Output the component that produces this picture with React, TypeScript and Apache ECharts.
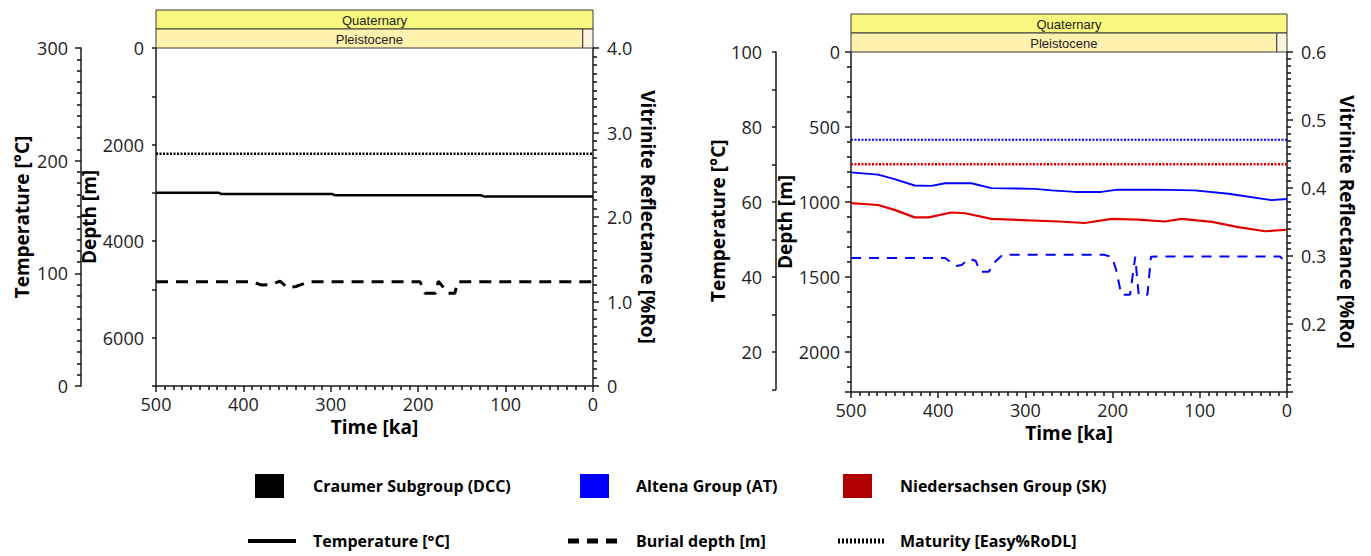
import { useEffect, useRef } from 'react';
import * as echarts from 'echarts';

// ---------- Data ----------
// Chronostratigraphy (ages in ka)
const stratNames = ['Quaternary', 'Pleistocene', 'Holocene'];
const stratStart = [2580, 2580, 11.7];
const stratEnd = [0, 11.7, 0];
const stratRow = [1, 0, 0];

// Left panel: Craumer Subgroup (DCC)  [time ka, value]
const dccTemperature: [number, number][] = [
  [500, 171.5], [428, 171.5], [425, 170.4], [298, 170.4], [295, 169.2], [128, 169.2], [125, 168.3], [0, 168.3],
];
const dccBurialDepth: [number, number][] = [
  [500, 4840], [390, 4840], [379, 4910], [370, 4900], [358, 4830], [350, 4960], [340, 4940], [334, 4900],
  [325, 4840], [198, 4840], [192, 5080], [180, 5080], [177, 4830], [171, 4960], [166, 5080], [158, 5080],
  [155, 4840], [0, 4840],
];
const dccMaturity: [number, number][] = [[500, 2.75], [0, 2.75]];

// Right panel: Altena Group (AT) and Niedersachsen Group (SK)
const atTemperature: [number, number][] = [
  [500, 67.9], [469, 67.3], [450, 66.1], [427, 64.4], [408, 64.3], [392, 65.0], [362, 65.0], [339, 63.7],
  [289, 63.5], [270, 63.1], [243, 62.7], [213, 62.7], [194, 63.3], [151, 63.3], [106, 63.1], [67, 62.2],
  [18, 60.5], [0, 60.8],
];
const skTemperature: [number, number][] = [
  [500, 59.7], [469, 59.2], [450, 57.9], [427, 55.9], [411, 55.9], [385, 57.2], [369, 57.0], [339, 55.5],
  [262, 54.8], [232, 54.4], [201, 55.5], [171, 55.3], [140, 54.8], [121, 55.5], [86, 54.7], [56, 53.3],
  [25, 52.2], [0, 52.6],
];
const atBurialDepth: [number, number][] = [
  [500, 1373], [392, 1373], [380, 1428], [373, 1420], [365, 1378], [357, 1392], [352, 1465], [342, 1465],
  [335, 1400], [326, 1352], [210, 1352], [201, 1365], [196, 1450], [190, 1618], [180, 1618], [176, 1450],
  [174, 1365], [172, 1500], [170, 1618], [160, 1618], [156, 1365], [145, 1363], [8, 1363], [3, 1395], [0, 1400],
];
const atMaturity: [number, number][] = [[500, 0.471], [0, 0.471]];
const skMaturity: [number, number][] = [[500, 0.435], [0, 0.435]];

// Legend
const unitNames = ['Craumer Subgroup (DCC)', 'Altena Group (AT)', 'Niedersachsen Group (SK)'];
const variableNames = ['Temperature [°C]', 'Burial depth [m]', 'Maturity [Easy%RoDL]'];

// ---------- Styles ----------
const FONT = '"Open Sans", "Noto Sans", sans-serif';
const AX = '#1a1a1a';
const stratFill: Record<string, string> = { Quaternary: '#F9F97F', Pleistocene: '#FFF2AE', Holocene: '#FEF2E0' };
const unitColors = ['#000000', '#0000FF', '#B00000'];
const BLUE = '#0000FF';
const RED = '#E00000';

const tickLabel = { fontSize: 18, color: '#222', fontFamily: FONT };
const titleStyle = { fontSize: 19, fontWeight: 'bold' as const, color: '#000', fontFamily: FONT };
const minor = (splitNumber: number) => ({ show: true, splitNumber, length: 4, lineStyle: { color: AX, width: 1.6 } });

function App() {
  const ref = useRef<HTMLDivElement>(null);
  useEffect(() => {
    if (!ref.current) return;
    const chart = echarts.init(ref.current, undefined, { renderer: 'svg' });

    const axisCommon = (extra: any) => ({
      type: 'value',
      axisLine: { show: true, onZero: false, lineStyle: { color: AX, width: 1.5 } },
      axisTick: { show: true, inside: false, length: 6, lineStyle: { color: AX, width: 1.5 } },
      splitLine: { show: false },
      axisLabel: { ...tickLabel, showMinLabel: true, showMaxLabel: true },
      ...extra,
    });

    const timeAxis = (gridIndex: number, show = true) =>
      axisCommon({
        gridIndex, min: 0, max: 500, inverse: true, interval: 100, show,
        minorTick: minor(10),
        axisLabel: { ...tickLabel, margin: 9, showMinLabel: true, showMaxLabel: true },
        name: 'Time [ka]', nameLocation: 'middle', nameGap: 31, nameTextStyle: titleStyle,
      });

    const hiddenAxis = (gridIndex: number, min: number, max: number, inverse = false) => ({
      type: 'value', gridIndex, min, max, inverse, show: false,
    });

    const stratSeries = (xi: number, yi: number) => ({
      type: 'custom', xAxisIndex: xi, yAxisIndex: yi, silent: true,
      data: stratNames.map((_, i) => [stratStart[i], stratEnd[i], stratRow[i]]),
      renderItem: (params: any, api: any) => {
        const i = params.dataIndex;
        const s = Math.min(api.value(0), 500);
        const e = Math.max(api.value(1), 0);
        const r = api.value(2);
        const a = api.coord([s, r + 1]);
        const b = api.coord([e, r]);
        const x = Math.min(a[0], b[0]);
        const y = Math.min(a[1], b[1]);
        const w = Math.abs(b[0] - a[0]);
        const h = Math.abs(b[1] - a[1]);
        const children: any[] = [
          { type: 'rect', shape: { x, y, width: w, height: h }, style: { fill: stratFill[stratNames[i]], stroke: '#3a3a3a', lineWidth: 1 } },
        ];
        if (w > 80) {
          children.push({
            type: 'text',
            style: { text: stratNames[i], x: x + w / 2, y: y + h / 2 + 1, align: 'center', verticalAlign: 'middle', fontSize: 13, fontFamily: '"Liberation Sans", Arial, sans-serif', fill: '#222' },
          });
        }
        return { type: 'group', children };
      },
    });

    const line = (data: [number, number][], xi: number, yi: number, color: string, width: number, type: any) => ({
      type: 'line', xAxisIndex: xi, yAxisIndex: yi, data, symbol: 'none', showSymbol: false, silent: true, z: 3,
      lineStyle: { color, width, type }, emphasis: { disabled: true },
    });

    // legend graphics
    const legendRow1Y = 486;
    const legendRow2Y = 541;
    const sq = [255, 580, 843];
    const tx = [313, 636, 900];
    const legendText = { fontSize: 16, fontWeight: 'bold', fontFamily: FONT, fill: '#000', verticalAlign: 'middle' };
    const graphic: any[] = [];
    unitNames.forEach((n, i) => {
      graphic.push({ type: 'rect', shape: { x: sq[i], y: legendRow1Y - 12, width: 29, height: 24 }, style: { fill: unitColors[i] } });
      graphic.push({ type: 'text', style: { ...legendText, text: n, x: tx[i], y: legendRow1Y } });
    });
    const lineSamples = [
      { x1: 248, x2: 296, dash: null, w: 4 },
      { x1: 568, x2: 620, dash: [11, 8], w: 5 },
      { x1: 838, x2: 886, dash: [2, 2], w: 5 },
    ];
    variableNames.forEach((n, i) => {
      const l = lineSamples[i];
      graphic.push({ type: 'line', shape: { x1: l.x1, y1: legendRow2Y, x2: l.x2, y2: legendRow2Y }, style: { stroke: '#000', lineWidth: l.w, lineDash: l.dash } });
      graphic.push({ type: 'text', style: { ...legendText, text: n, x: tx[i], y: legendRow2Y } });
    });

    chart.setOption({
      animation: false,
      textStyle: { fontFamily: FONT },
      grid: [
        { left: 156, top: 48, width: 437, height: 338 },   // 0 left main
        { left: 851, top: 52, width: 436, height: 340 },   // 1 right main
        { left: 156, top: 10, width: 437, height: 38 },    // 2 left strat
        { left: 851, top: 14, width: 436, height: 38 },    // 3 right strat
        { left: 851, top: 52, width: 436, height: 337.5 }, // 4 right temperature
      ],
      xAxis: [
        timeAxis(0),
        timeAxis(1),
        hiddenAxis(2, 0, 500, true),
        hiddenAxis(3, 0, 500, true),
        hiddenAxis(4, 0, 500, true),
      ],
      yAxis: [
        // 0 left depth
        axisCommon({
          gridIndex: 0, position: 'left', min: 0, max: 7000, inverse: true, interval: 1000,
          axisTick: { show: true, inside: false, length: 4, lineStyle: { color: AX, width: 1.5 } },
          axisLabel: { ...tickLabel, margin: 12, showMinLabel: true, showMaxLabel: true, formatter: (v: number) => (v % 2000 === 0 ? String(v) : '') },
          name: 'Depth [m]', nameLocation: 'middle', nameGap: 53, nameRotate: 90, nameTextStyle: titleStyle,
        }),
        // 1 left temperature
        axisCommon({
          gridIndex: 0, position: 'left', offset: 75, min: 0, max: 300, interval: 100,
          minorTick: minor(10),
          axisLabel: { ...tickLabel, margin: 13, showMinLabel: true, showMaxLabel: true },
          name: 'Temperature [°C]', nameLocation: 'middle', nameGap: 50, nameRotate: 90, nameTextStyle: titleStyle,
        }),
        // 2 left vitrinite
        axisCommon({
          gridIndex: 0, position: 'right', min: 0, max: 4, interval: 1,
          minorTick: minor(10),
          axisLabel: { ...tickLabel, margin: 14, showMinLabel: true, showMaxLabel: true, formatter: (v: number) => (v === 0 ? '0' : v.toFixed(1)) },
          name: 'Vitrinite Reflectance [%Ro]', nameLocation: 'middle', nameGap: 45, nameRotate: -90, nameTextStyle: titleStyle,
        }),
        // 3 right depth
        axisCommon({
          gridIndex: 1, position: 'left', min: 0, max: 2266.67, inverse: true, interval: 500,
          minorTick: minor(5),
          axisLabel: { ...tickLabel, margin: 11, showMinLabel: true, showMaxLabel: true, formatter: (v: number) => (v % 500 === 0 && v <= 2000 ? String(v) : '') },
          name: 'Depth [m]', nameLocation: 'middle', nameGap: 53, nameRotate: 90, nameTextStyle: titleStyle,
        }),
        // 4 right vitrinite
        axisCommon({
          gridIndex: 1, position: 'right', min: 0.1, max: 0.6, interval: 0.1,
          minorTick: minor(10),
          axisLabel: { ...tickLabel, margin: 14, showMinLabel: true, showMaxLabel: true, formatter: (v: number) => (v > 0.15 ? v.toFixed(1) : '') },
          name: 'Vitrinite Reflectance [%Ro]', nameLocation: 'middle', nameGap: 50, nameRotate: -90, nameTextStyle: titleStyle,
        }),
        // 5 left strat
        hiddenAxis(2, 0, 2),
        // 6 right strat
        hiddenAxis(3, 0, 2),
        // 7 right temperature
        axisCommon({
          gridIndex: 4, position: 'left', offset: 75, min: 10, max: 100, interval: 10,
          axisTick: { show: true, inside: false, length: 4, lineStyle: { color: AX, width: 1.5 } },
          axisLabel: { ...tickLabel, margin: 14, showMinLabel: true, showMaxLabel: true, formatter: (v: number) => (v % 20 === 0 ? String(v) : '') },
          name: 'Temperature [°C]', nameLocation: 'middle', nameGap: 34, nameRotate: 90, nameTextStyle: titleStyle,
        }),
      ],
      series: [
        stratSeries(2, 5),
        stratSeries(3, 6),
        line(dccMaturity, 0, 2, '#000', 2.5, [2, 1.5]),
        line(dccTemperature, 0, 1, '#000', 2.5, 'solid'),
        line(dccBurialDepth, 0, 0, '#000', 3, [12, 8]),
        line(atMaturity, 1, 4, BLUE, 2, [2, 1.5]),
        line(skMaturity, 1, 4, RED, 2.5, [2, 1.5]),
        line(atTemperature, 4, 7, BLUE, 2, 'solid'),
        line(skTemperature, 4, 7, RED, 2.2, 'solid'),
        line(atBurialDepth, 1, 3, BLUE, 2, [10, 8]),
      ],
      graphic,
    });

    return () => chart.dispose();
  }, []);

  return <div ref={ref} style={{ position: 'fixed', left: 0, top: 0, width: 1371, height: 556, background: '#fff' }} />;
}

export default App;
